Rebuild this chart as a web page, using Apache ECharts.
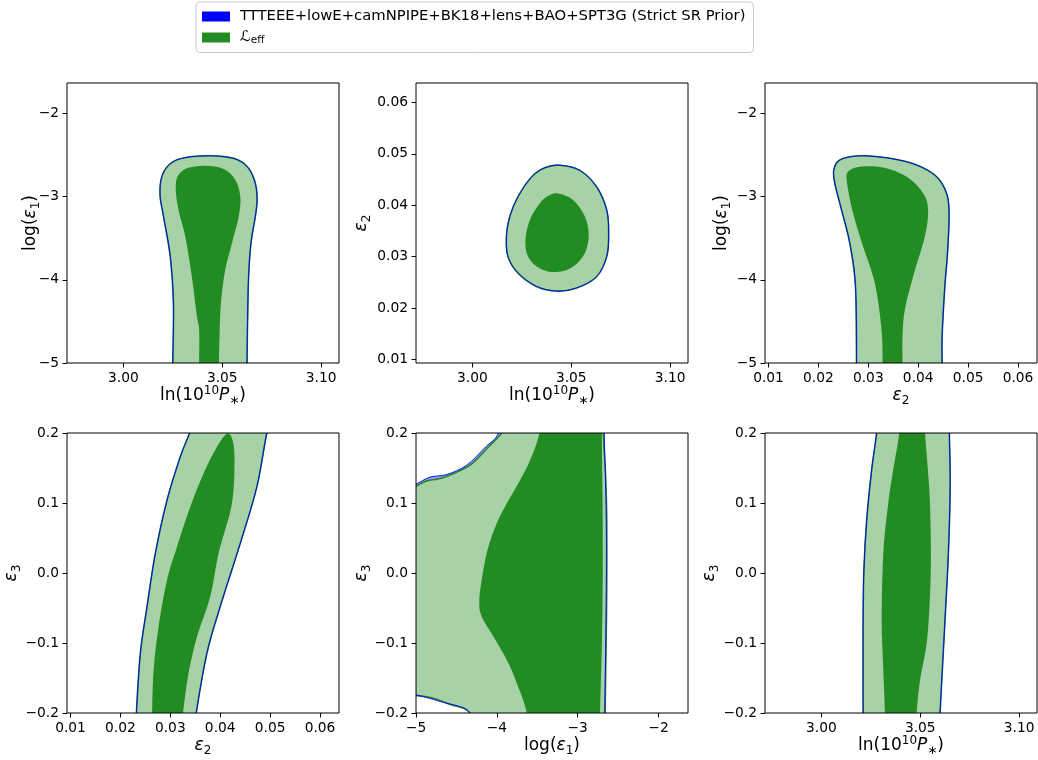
<!DOCTYPE html>
<html><head><meta charset="utf-8">
<script src="https://cdn.jsdelivr.net/npm/echarts@6/dist/echarts.min.js"></script>
<style>html,body{margin:0;padding:0;background:#fff}#c{width:1038px;height:760px}</style>
</head><body><div id="c"></div>
<script>
// ---------- tick values / labels ----------
const lnPTicks = [3.00, 3.05, 3.10];
const lnPTickLabels = ['3.00', '3.05', '3.10'];
const logE1Ticks = [-5, -4, -3, -2];
const logE1TickLabels = ['\u22125', '\u22124', '\u22123', '\u22122'];
const eps2Ticks = [0.01, 0.02, 0.03, 0.04, 0.05, 0.06];
const eps2TickLabels = ['0.01', '0.02', '0.03', '0.04', '0.05', '0.06'];
const eps3Ticks = [-0.2, -0.1, 0.0, 0.1, 0.2];
const eps3TickLabels = ['\u22120.2', '\u22120.1', '0.0', '0.1', '0.2'];

// ---------- legend names ----------
const blueName = 'TTTEEE+lowE+camNPIPE+BK18+lens+BAO+SPT3G (Strict SR Prior)';
const greenName = 'Leff';

// ---------- contours (boundary points, [x, y]) ----------
// Panel 1: x = ln(10^10 P*), y = log(eps1)
const p1Outer = [[3.0250,-5.3],[3.0250,-5.0],[3.0253,-4.28],[3.0237,-3.72],[3.0203,-3.24],[3.0186,-3.00],[3.0190,-2.80],[3.0215,-2.66],[3.0260,-2.57],[3.0330,-2.525],[3.0422,-2.51],[3.0510,-2.52],[3.0580,-2.56],[3.0633,-2.66],[3.0667,-2.84],[3.0676,-3.04],[3.0667,-3.24],[3.0645,-3.56],[3.0633,-3.96],[3.0628,-4.48],[3.0625,-5.0],[3.0625,-5.3]];
const p1Inner = [[3.0383,-5.3],[3.0383,-5.0],[3.0383,-4.6],[3.0372,-4.44],[3.0346,-3.96],[3.0313,-3.48],[3.0279,-3.16],[3.0265,-2.92],[3.0274,-2.76],[3.0321,-2.66],[3.0414,-2.63],[3.0507,-2.67],[3.0566,-2.80],[3.0591,-3.00],[3.0583,-3.24],[3.0549,-3.56],[3.0515,-3.88],[3.0493,-4.28],[3.0486,-4.68],[3.0483,-5.0],[3.0483,-5.3]];
// Panel 2: x = ln(10^10 P*), y = eps2
const p2Outer = [[3.0442,0.0478],[3.0543,0.0468],[3.0628,0.0436],[3.0679,0.0391],[3.0689,0.0345],[3.0679,0.0300],[3.0628,0.0261],[3.0527,0.0239],[3.0426,0.0233],[3.0324,0.0242],[3.0231,0.0268],[3.0180,0.0300],[3.0172,0.0339],[3.0189,0.0378],[3.0231,0.0417],[3.0299,0.0455],[3.0366,0.0473]];
const p2Inner = [[3.0434,0.0423],[3.0510,0.0410],[3.0569,0.0378],[3.0588,0.0342],[3.0569,0.0307],[3.0510,0.0281],[3.0426,0.0270],[3.0341,0.0277],[3.0282,0.0300],[3.0268,0.0332],[3.0290,0.0371],[3.0341,0.0404],[3.0383,0.0418]];
// Panel 3: x = eps2, y = log(eps1)
const p3Outer = [[0.02764,-5.3],[0.02764,-5.0],[0.02743,-4.08],[0.02629,-3.56],[0.02463,-3.16],[0.02329,-2.84],[0.02309,-2.68],[0.02429,-2.56],[0.02830,-2.51],[0.03431,-2.54],[0.03966,-2.62],[0.04367,-2.76],[0.04567,-2.96],[0.04619,-3.20],[0.04587,-3.68],[0.04533,-4.08],[0.04479,-4.68],[0.04479,-5.0],[0.04479,-5.3]];
const p3Inner = [[0.03285,-5.3],[0.03285,-5.0],[0.03265,-4.6],[0.03130,-4.04],[0.02896,-3.60],[0.02695,-3.20],[0.02575,-2.84],[0.02595,-2.70],[0.02830,-2.64],[0.03297,-2.65],[0.03766,-2.76],[0.04098,-2.96],[0.04198,-3.16],[0.04132,-3.48],[0.03898,-3.96],[0.03731,-4.36],[0.03685,-4.68],[0.03685,-5.0],[0.03685,-5.3]];
// Panel 4: x = eps2, y = eps3
const p4Outer = [[0.0229,-0.25],[0.0232,-0.20],[0.0240,-0.1145],[0.02534,-0.048],[0.0270,0.028],[0.02934,0.104],[0.0320,0.166],[0.03386,0.20],[0.0352,0.23],[0.0507,0.23],[0.04934,0.20],[0.04734,0.123],[0.0440,0.042],[0.0400,-0.048],[0.03734,-0.1145],[0.0352,-0.20],[0.0344,-0.25]];
const p4Inner = [[0.0262,-0.25],[0.02634,-0.20],[0.02666,-0.138],[0.02766,-0.0765],[0.02934,-0.01],[0.03134,0.0375],[0.0340,0.0945],[0.03666,0.142],[0.03934,0.18],[0.04134,0.199],[0.04246,0.19],[0.04286,0.161],[0.04234,0.099],[0.03966,0.028],[0.0380,-0.034],[0.03534,-0.091],[0.03366,-0.143],[0.03254,-0.20],[0.0318,-0.25]];
// Panel 5: x = log(eps1), y = eps3
const p5Outer = [[-5.1,0.122],[-5.0,0.124],[-4.868,0.1316],[-4.703,0.135],[-4.517,0.143],[-4.311,0.156],[-4.105,0.18],[-3.96,0.197],[-3.90,0.21],[-3.80,0.25],[-2.68,0.25],[-2.682,0.20],[-2.655,0.14],[-2.64,0.0755],[-2.64,-0.0195],[-2.648,-0.10],[-2.661,-0.20],[-2.665,-0.25],[-4.20,-0.25],[-4.332,-0.20],[-4.579,-0.188],[-4.786,-0.179],[-5.0,-0.175],[-5.1,-0.174]];
const p5BlueOuter = [[-5.1,0.125],[-5.0,0.127],[-4.827,0.137],[-4.62,0.1407],[-4.373,0.154],[-4.14,0.18],[-3.98,0.20],[-3.88,0.25],[-2.675,0.25],[-2.672,0.20],[-2.648,0.10],[-2.645,0.0],[-2.652,-0.10],[-2.665,-0.20],[-2.67,-0.25],[-4.25,-0.25],[-4.332,-0.20],[-4.703,-0.1835],[-5.0,-0.174],[-5.1,-0.173]];
const p5Inner = [[-3.45,0.25],[-3.474,0.20],[-3.589,0.161],[-3.713,0.1326],[-3.878,0.0993],[-4.001,0.0708],[-4.105,0.0375],[-4.167,0.0043],[-4.217,-0.0385],[-4.187,-0.0623],[-4.043,-0.0908],[-3.878,-0.124],[-3.754,-0.157],[-3.63,-0.20],[-3.60,-0.25],[-2.725,-0.25],[-2.723,-0.20],[-2.70,-0.10],[-2.69,0.0],[-2.692,0.10],[-2.702,0.20],[-2.705,0.25]];
// Panel 6: x = ln(10^10 P*), y = eps3
const p6Outer = [[3.0211,-0.25],[3.0211,-0.20],[3.0211,-0.067],[3.0215,0.0043],[3.0229,0.0755],[3.0254,0.147],[3.0279,0.20],[3.0292,0.25],[3.0645,0.25],[3.0647,0.20],[3.0651,0.123],[3.0642,0.028],[3.0625,-0.067],[3.0600,-0.20],[3.0594,-0.25]];
const p6Inner = [[3.0322,-0.25],[3.0321,-0.20],[3.0313,-0.138],[3.0305,-0.067],[3.0313,0.028],[3.0338,0.0993],[3.0363,0.147],[3.0394,0.20],[3.0410,0.25],[3.0518,0.25],[3.0524,0.20],[3.0536,0.156],[3.0549,0.0993],[3.0553,0.0043],[3.0536,-0.091],[3.0499,-0.153],[3.0482,-0.20],[3.0476,-0.25]];

// ---------- styling ----------
const FONT = 'DejaVu Sans';
const BLUE = '#0000ff', BLUE_LIGHT = '#9a9aff', GREEN = '#228b22', GREEN_LIGHT = '#a7d1a7';
const nameRich = {
  n: {fontSize: 17, lineHeight: 22, fontFamily: FONT, color: '#000'},
  i: {fontSize: 17, lineHeight: 22, fontFamily: FONT, fontStyle: 'italic', color: '#000'},
  sup: {fontSize: 12, lineHeight: 10, verticalAlign: 'top', fontFamily: FONT, color: '#000'},
  sub: {fontSize: 12, lineHeight: 12, verticalAlign: 'bottom', fontFamily: FONT, color: '#000'}
};
const AX = {
  lnP: {min: 2.9715, max: 3.109, ticks: lnPTicks, labels: lnPTickLabels, name: '{n|ln(10}{sup|10}{i|P}{sub|\u2217}{n|)}'},
  logE1: {min: -5, max: -1.635, ticks: logE1Ticks, labels: logE1TickLabels, name: '{n|log(}{i|\u03b5}{sub|1}{n|)}'},
  eps2: {min: 0.0093, max: 0.0638, ticks: eps2Ticks, labels: eps2TickLabels, name: '{i|\u03b5}{sub|2}'},
  eps3: {min: -0.2, max: 0.2, ticks: eps3Ticks, labels: eps3TickLabels, name: '{i|\u03b5}{sub|3}'}
};
const panels = [
  {left: 67, top: 83, x: 'lnP', y: 'logE1', yGap: 25, outer: p1Outer, blue: p1Outer, inner: p1Inner},
  {left: 416, top: 83, x: 'lnP', y: 'eps2', yGap: 43, outer: p2Outer, blue: p2Outer, inner: p2Inner},
  {left: 765, top: 83, x: 'eps2', y: 'logE1', yGap: 32, outer: p3Outer, blue: p3Outer, inner: p3Inner},
  {left: 67, top: 433, x: 'eps2', y: 'eps3', yGap: 44, outer: p4Outer, blue: p4Outer, inner: p4Inner},
  {left: 416, top: 433, x: 'logE1', y: 'eps3', yGap: 43, outer: p5Outer, blue: p5BlueOuter, inner: p5Inner},
  {left: 765, top: 433, x: 'lnP', y: 'eps3', yGap: 44, outer: p6Outer, blue: p6Outer, inner: p6Inner}
];

function fmt(spec) {
  return function (v) {
    let best = 0;
    for (let k = 1; k < spec.ticks.length; k++) {
      if (Math.abs(spec.ticks[k] - v) < Math.abs(spec.ticks[best] - v)) best = k;
    }
    return spec.labels[best];
  };
}
function axis(spec, isX, gap) {
  return {
    type: 'value', min: spec.min, max: spec.max, scale: true,
    name: spec.name, nameLocation: 'middle', nameGap: gap, nameMoveOverlap: false,
    nameTextStyle: {rich: nameRich, fontFamily: FONT, fontSize: 17, color: '#000'},
    axisLine: {show: false, onZero: false},
    axisTick: {show: true, length: 4.5, lineStyle: {color: '#000', width: 1}, customValues: spec.ticks},
    axisLabel: {show: true, customValues: spec.ticks, formatter: fmt(spec), fontFamily: FONT, fontSize: 13.8, color: '#000', margin: 8, hideOverlap: false},
    splitLine: {show: false}
  };
}
// closed Catmull-Rom curve through the pixel positions given by the axes
function closedCurve(P) {
  const n = P.length;
  const f = function (v) { return v.toFixed(2); };
  let d = 'M' + f(P[0][0]) + ' ' + f(P[0][1]);
  for (let i = 0; i < n; i++) {
    const p0 = P[(i - 1 + n) % n], p1 = P[i], p2 = P[(i + 1) % n], p3 = P[(i + 2) % n];
    const c1x = p1[0] + (p2[0] - p0[0]) / 6, c1y = p1[1] + (p2[1] - p0[1]) / 6;
    const c2x = p2[0] - (p3[0] - p1[0]) / 6, c2y = p2[1] - (p3[1] - p1[1]) / 6;
    d += ' C' + f(c1x) + ' ' + f(c1y) + ' ' + f(c2x) + ' ' + f(c2y) + ' ' + f(p2[0]) + ' ' + f(p2[1]);
  }
  return d + ' Z';
}
function poly(name, pts, gi, style, z2, color) {
  return {
    type: 'custom', name: name, xAxisIndex: gi, yAxisIndex: gi, data: pts,
    itemStyle: {color: color}, silent: true, animation: false, clip: true,
    renderItem: function (params, api) {
      if (params.dataIndex !== 0) return null;
      const cs = params.coordSys;
      const P = pts.map(function (p) { return api.coord(p); });
      return {
        type: 'path', z2: z2,
        shape: {pathData: closedCurve(P)},
        style: style,
        clipPath: {type: 'rect', shape: {x: cs.x, y: cs.y, width: cs.width, height: cs.height}}
      };
    }
  };
}

const grid = [], xAxis = [], yAxis = [], series = [];
panels.forEach(function (p, gi) {
  grid.push({left: p.left, top: p.top, width: 272, height: 280, show: true, z: 10,
    backgroundColor: 'transparent', borderColor: '#000', borderWidth: 1, containLabel: false, outerBoundsMode: 'none'});
  xAxis.push(Object.assign(axis(AX[p.x], true, 22), {gridIndex: gi}));
  yAxis.push(Object.assign(axis(AX[p.y], false, p.yGap), {gridIndex: gi}));
  series.push(poly(blueName, p.blue, gi, {fill: BLUE_LIGHT, stroke: null}, 0, BLUE));
  series.push(poly(greenName, p.outer, gi, {fill: GREEN_LIGHT, stroke: GREEN, lineWidth: 1.6}, 1, GREEN));
  series.push(poly(greenName, p.inner, gi, {fill: GREEN, stroke: null}, 2, GREEN));
  series.push(poly(blueName, p.blue, gi, {fill: null, stroke: BLUE, lineWidth: 0.9}, 3, BLUE));
});

const chart = echarts.init(document.getElementById('c'), null, {renderer: 'canvas'});
chart.setOption({
  backgroundColor: '#fff',
  animation: false,
  legend: {
    data: [blueName, greenName], orient: 'vertical', left: 196, top: 2,
    padding: [7, 8, 7, 6], itemGap: 6, itemWidth: 28, itemHeight: 10, icon: 'rect',
    borderColor: '#cccccc', borderWidth: 1, borderRadius: 4, backgroundColor: '#fff',
    selectedMode: false,
    formatter: function (name) { return name === greenName ? '{L|\u2112}{s|eff}' : '{t|' + name + '}'; },
    textStyle: {
      fontFamily: FONT, fontSize: 14.8, color: '#000',
      rich: {
        t: {fontFamily: FONT, fontSize: 14.8, lineHeight: 16, padding: [0, 0, 0, 5], color: '#000'},
        L: {fontFamily: FONT, fontSize: 15, lineHeight: 16, padding: [0, 0, 0, 5], color: '#000'},
        s: {fontFamily: FONT, fontSize: 10.5, lineHeight: 10, verticalAlign: 'bottom', color: '#000'}
      }
    }
  },
  grid: grid, xAxis: xAxis, yAxis: yAxis, series: series
});
</script>
</body></html>
